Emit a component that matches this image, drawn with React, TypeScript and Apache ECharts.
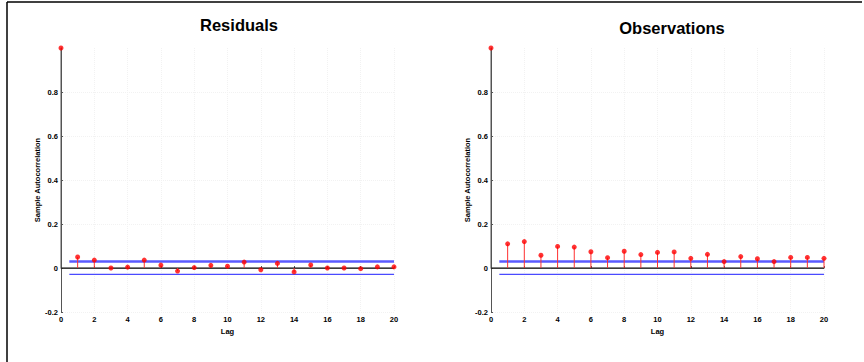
import React, { useEffect, useRef } from "react";
import * as echarts from "echarts";

const lags = [0, 1, 2, 3, 4, 5, 6, 7, 8, 9, 10, 11, 12, 13, 14, 15, 16, 17, 18, 19, 20];
const residualAcf = [1, 0.05, 0.036, 0.0, 0.004, 0.036, 0.013, -0.014, 0.002, 0.012, 0.008, 0.027, -0.008, 0.021, -0.018, 0.014, 0.0, 0.0, -0.003, 0.005, 0.005];
const observationAcf = [1, 0.11, 0.12, 0.058, 0.098, 0.095, 0.074, 0.047, 0.076, 0.061, 0.071, 0.073, 0.044, 0.062, 0.029, 0.052, 0.042, 0.029, 0.048, 0.048, 0.044];
const boundValue = 0.029;
const boundStartLag = 0.5;
const yTickValues = [-0.2, 0, 0.2, 0.4, 0.6, 0.8];
const titles = ["Residuals", "Observations"];

const FONT = "Liberation Sans, Arial, sans-serif";

export default function App() {
  const ref = useRef<HTMLDivElement>(null);
  useEffect(() => {
    if (!ref.current) return;
    const chart = echarts.init(ref.current, null, { renderer: "svg" });
    const datasets = [residualAcf, observationAcf];
    const grids = [
      { left: 61, top: 48, width: 333, height: 264 },
      { left: 491, top: 48, width: 333, height: 264 },
    ];
    const xAxes: any[] = [];
    const yAxes: any[] = [];
    const series: any[] = [];
    datasets.forEach((vals, i) => {
      xAxes.push({
        type: "value",
        gridIndex: i,
        min: 0,
        max: 20,
        interval: 2,
        name: "Lag",
        nameLocation: "middle",
        nameGap: 13,
        nameTextStyle: { fontFamily: FONT, fontSize: 7.5, fontWeight: "bold", color: "#000" },
        axisLine: { show: true, lineStyle: { color: "#777", width: 1 } },
        axisTick: { show: true, inside: true, length: 2, lineStyle: { color: "#555" } },
        axisLabel: { fontFamily: FONT, fontSize: 7.5, fontWeight: "bold", color: "#000", margin: 3 },
        splitLine: { show: true, lineStyle: { type: "dotted", color: "#f2f2f2" } },
      });
      yAxes.push({
        type: "value",
        gridIndex: i,
        min: -0.2,
        max: 1,
        interval: 0.2,
        name: "Sample Autocorrelation",
        nameLocation: "middle",
        nameGap: 18,
        nameRotate: 90,
        nameTextStyle: { fontFamily: FONT, fontSize: 7.5, fontWeight: "bold", color: "#000" },
        axisLine: { show: true, lineStyle: { color: "#555", width: 1 } },
        axisTick: { show: true, inside: true, length: 2, customValues: yTickValues, lineStyle: { color: "#555" } },
        axisLabel: { fontFamily: FONT, fontSize: 7.5, fontWeight: "bold", color: "#000", margin: 3, customValues: yTickValues },
        splitLine: { show: true, lineStyle: { type: "dotted", color: "#f2f2f2" } },
      });
      const pts = lags.map((l, k) => [l, vals[k]]);
      series.push({
        type: "line",
        xAxisIndex: i,
        yAxisIndex: i,
        data: [[0, 0], [20, 0]],
        symbol: "none",
        lineStyle: { color: "#000", width: 1 },
        z: 3,
      });
      series.push({
        type: "line",
        xAxisIndex: i,
        yAxisIndex: i,
        data: [[boundStartLag, boundValue], [20, boundValue]],
        symbol: "none",
        lineStyle: { color: "#5a5aff", width: 2.5 },
        z: 2,
      });
      series.push({
        type: "line",
        xAxisIndex: i,
        yAxisIndex: i,
        data: [[boundStartLag, -boundValue], [20, -boundValue]],
        symbol: "none",
        lineStyle: { color: "#4a4aff", width: 1.2 },
        z: 2,
      });
      series.push({
        type: "custom",
        xAxisIndex: i,
        yAxisIndex: i,
        data: pts,
        z: 4,
        renderItem: (params: any, api: any) => {
          const a = api.coord([api.value(0), 0]);
          const b = api.coord([api.value(0), api.value(1)]);
          const atAxis = api.value(0) === 0;
          return {
            type: "line",
            shape: { x1: a[0], y1: a[1], x2: b[0], y2: b[1] },
            style: { stroke: atAxis ? "#555" : "#ff3030", lineWidth: 1 },
          };
        },
      });
      series.push({
        type: "scatter",
        xAxisIndex: i,
        yAxisIndex: i,
        data: pts,
        symbol: "circle",
        symbolSize: 5,
        itemStyle: { color: "#ff0000" },
        z: 5,
      });
    });

    chart.setOption({
      animation: false,
      backgroundColor: "#fff",
      title: [
        {
          text: titles[0],
          left: 234,
          top: 11,
          textAlign: "center",
          textStyle: { fontFamily: FONT, fontSize: 16.5, fontWeight: "bold", color: "#000" },
        },
        {
          text: titles[1],
          left: 667,
          top: 14,
          textAlign: "center",
          textStyle: { fontFamily: FONT, fontSize: 16.5, fontWeight: "bold", color: "#000" },
        },
      ],
      grid: grids,
      xAxis: xAxes,
      yAxis: yAxes,
      series,
      graphic: [
        { type: "line", shape: { x1: 7, y1: 2, x2: 862, y2: 2 }, style: { stroke: "#000", lineWidth: 1.5 } },
        { type: "line", shape: { x1: 7, y1: 2, x2: 7, y2: 362 }, style: { stroke: "#000", lineWidth: 1.5 } },
      ],
    });
    return () => chart.dispose();
  }, []);
  return (
    <div
      ref={ref}
      style={{ position: "fixed", left: 0, top: 0, width: 864, height: 362 }}
    />
  );
}
